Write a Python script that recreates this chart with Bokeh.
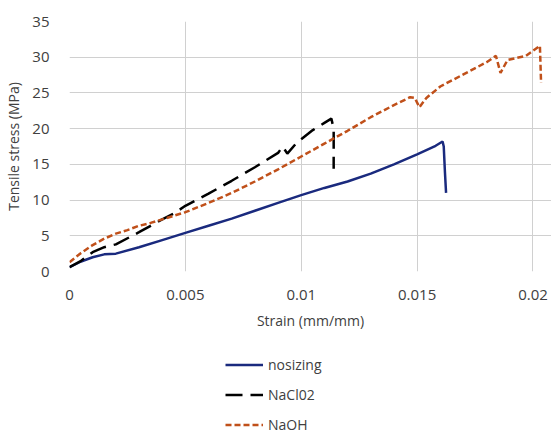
from bokeh.plotting import figure
from bokeh.layouts import column
from bokeh.models import Range1d, FixedTicker, Legend, LegendItem
from bokeh.embed import file_html
from bokeh.resources import INLINE

# ---- data ----
nosizing_x = [0, 0.0005, 0.001, 0.0015, 0.002, 0.003, 0.004, 0.005, 0.006, 0.007, 0.008,
              0.009, 0.010, 0.011, 0.012, 0.013, 0.014, 0.015, 0.0158, 0.0161, 0.01615,
              0.0162, 0.01625]
nosizing_y = [0.6, 1.4, 2.0, 2.4, 2.5, 3.4, 4.4, 5.4, 6.4, 7.4, 8.5,
              9.6, 10.7, 11.7, 12.6, 13.7, 15.0, 16.4, 17.6, 18.2, 17.5,
              14.0, 11.0]

nacl_x = [0, 0.0005, 0.001, 0.0015, 0.002, 0.003, 0.0035, 0.004, 0.0045, 0.005, 0.006,
          0.007, 0.008, 0.009, 0.0092, 0.0094, 0.0098, 0.0105, 0.011, 0.0113, 0.0114, 0.0114]
nacl_y = [0.6, 1.5, 2.7, 3.4, 3.8, 5.5, 6.4, 7.3, 8.1, 9.2, 10.9,
          12.7, 14.6, 16.6, 17.5, 16.5, 18.0, 19.8, 20.8, 21.4, 20.0, 14.4]

naoh_x = [0, 0.0005, 0.001, 0.0015, 0.002, 0.0025, 0.003, 0.0035, 0.004, 0.005, 0.006,
          0.007, 0.008, 0.009, 0.010, 0.011, 0.012, 0.013, 0.014, 0.0147, 0.0149,
          0.0151, 0.0154, 0.016, 0.017, 0.018, 0.0184, 0.0186, 0.0189, 0.0197,
          0.0203, 0.02035]
naoh_y = [1.3, 2.6, 3.7, 4.6, 5.3, 5.8, 6.4, 6.8, 7.3, 8.3, 9.6,
          11.0, 12.6, 14.3, 16.1, 17.9, 19.7, 21.6, 23.3, 24.4, 24.3,
          23.0, 24.3, 25.9, 27.6, 29.3, 30.2, 27.8, 29.6, 30.2,
          31.6, 26.4]

series_names = ["nosizing", "NaCl02", "NaOH"]
x_ticks = [0, 0.005, 0.01, 0.015, 0.02]
x_tick_labels = ["0", "0.005", "0.01", "0.015", "0.02"]
y_ticks = [0, 5, 10, 15, 20, 25, 30, 35]

FONT = "Open Sans"
TXT = "#404040"
COLORS = ["#1a2a7e", "black", "#c0501a"]
DASHES = ["solid", "17 8", "6 3"]

p = figure(width=551, height=340, output_backend="svg", toolbar_location=None,
           x_range=Range1d(0, 0.0208), y_range=Range1d(0, 35),
           min_border_left=69, min_border_right=0, min_border_top=21,
           min_border_bottom=69)
p.outline_line_color = None
p.background_fill_color = "white"

for ax in (p.xaxis[0], p.yaxis[0]):
    ax.axis_line_color = None
    ax.major_tick_line_color = None
    ax.minor_tick_line_color = None
    ax.major_label_text_font = FONT
    ax.major_label_text_font_size = "15px"
    ax.major_label_text_color = TXT
    ax.axis_label_text_font = FONT
    ax.axis_label_text_font_size = "14px"
    ax.axis_label_text_font_style = "normal"
    ax.axis_label_text_color = TXT

p.xaxis.ticker = FixedTicker(ticks=x_ticks)
p.xaxis.major_label_overrides = {t: l for t, l in zip(x_ticks, x_tick_labels)}
p.yaxis.ticker = FixedTicker(ticks=y_ticks)
p.yaxis.major_label_overrides = {t: str(t) for t in y_ticks}
p.xaxis.major_label_standoff = 12
p.yaxis.major_label_standoff = 14
p.xaxis.axis_label = "Strain (mm/mm)"
p.yaxis.axis_label = "Tensile stress (MPa)"
p.xaxis.axis_label_standoff = 8
p.yaxis.axis_label_standoff = 6

p.xgrid.grid_line_color = "#d0d0d0"
p.ygrid.grid_line_color = "#d0d0d0"
p.xgrid.ticker = FixedTicker(ticks=x_ticks)
p.ygrid.ticker = FixedTicker(ticks=y_ticks)

for xs, ys, c, d in zip([nosizing_x, nacl_x, naoh_x], [nosizing_y, nacl_y, naoh_y], COLORS, DASHES):
    p.line(xs, ys, line_color=c, line_width=2.5, line_dash=d)

# legend panel below the chart
lp = figure(width=551, height=94, output_backend="svg", toolbar_location=None,
            x_range=Range1d(10, 11), y_range=Range1d(10, 11),
            min_border=0, x_axis_type=None, y_axis_type=None)
lp.outline_line_color = None
lp.xgrid.visible = False
lp.ygrid.visible = False
items = []
for name, c, d in zip(series_names, COLORS, DASHES):
    r = lp.line([0, 1], [0, 1], line_color=c, line_width=2.5, line_dash=d)
    items.append(LegendItem(label=name, renderers=[r]))

legend = Legend(items=items, location=(156, 0), orientation="vertical")
legend.glyph_width = 38
legend.glyph_height = 19
legend.spacing = 11
legend.padding = 0
legend.margin = 0
legend.label_standoff = 5
legend.label_height = 19
legend.label_text_font = FONT
legend.label_text_font_size = "14px"
legend.label_text_color = TXT
legend.border_line_color = None
legend.background_fill_alpha = 0
lp.add_layout(legend, "center")

layout = column(p, lp, spacing=0)
open("out.html", "w").write(file_html(layout, INLINE))
